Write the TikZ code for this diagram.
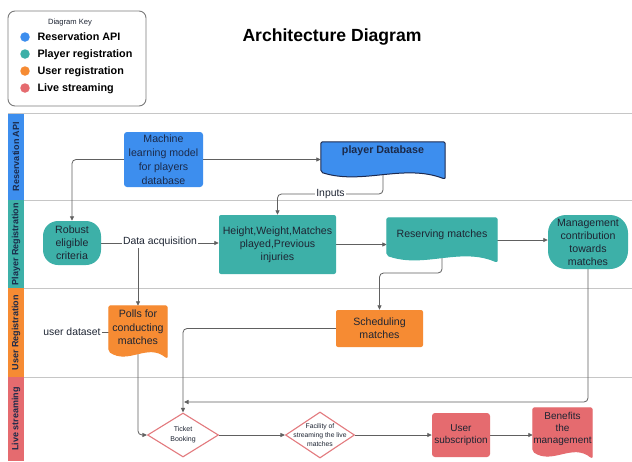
\documentclass[tikz,border=0pt]{standalone}
\usepackage{fontspec}
\setmainfont{Liberation Sans}
\usetikzlibrary{shapes.geometric,arrows.meta,calc}
\pgfdeclarelayer{lanes}\pgfdeclarelayer{edges}\pgfdeclarelayer{docs}
\pgfsetlayers{lanes,edges,docs,main}
\definecolor{blueC}{HTML}{3D8EEE}
\definecolor{tealC}{HTML}{3DB0A8}
\definecolor{orangeC}{HTML}{F68B33}
\definecolor{redC}{HTML}{E56B6F}
\definecolor{diaC}{HTML}{E37A7E}
\definecolor{navyT}{HTML}{1B2A4A}
\definecolor{navyB}{HTML}{1C2A50}
\definecolor{txtC}{HTML}{1E2533}
\definecolor{edgeC}{HTML}{606060}
\definecolor{laneC}{HTML}{C6C6C6}
\definecolor{keyC}{HTML}{7A7A7A}
\newcommand{\fs}[2]{\fontsize{#1}{#2}\selectfont}
\newcommand{\docshape}[3]{%
  \begin{pgfonlayer}{docs}
  \path[fill=#2,draw=#3,line width=1pt,rounded corners=2pt]
    let \p1=(#1.north west),\p2=(#1.south east),\n1={(\x2-\x1)/3} in
    (\x2,\y2) -- (\x2,\y1) -- (\x1,\y1) -- (\x1,\y2+7pt)
    .. controls (\x1+\n1,\y2-6.2pt) and (\x1+2*\n1,\y2+16pt) .. (\x2,\y2) -- cycle;
  \end{pgfonlayer}}
\tikzset{
  conn/.style={draw=edgeC,line width=0.8pt,rounded corners=4pt,-{Triangle[length=4.5pt,width=4pt]}},
  plain/.style={draw=edgeC,line width=0.8pt},
  laneline/.style={draw=laneC,line width=0.8pt},
  box/.style={rectangle,inner sep=0pt,align=center,text=txtC,font=\fs{10.6}{13}},
  docn/.style={rectangle,inner sep=0pt,draw=none,fill=none},
  dia/.style={diamond,inner sep=0pt,draw=diaC,fill=white,line width=1.1pt},
  elabel/.style={fill=white,inner sep=1pt,text=txtC,font=\fs{10.4}{12}},
  lanelbl/.style={rotate=90,font=\bfseries\fs{9}{10},text=navyT},
  keydot/.style={circle,inner sep=0pt,minimum size=9.5pt},
  keytxt/.style={anchor=base west,font=\bfseries\fs{10.8}{12},text=black},
}
\begin{document}
\begin{tikzpicture}[x=1pt,y=-1pt]
\useasboundingbox (0,0) rectangle (632,461);
\begin{pgfonlayer}{lanes}
  \fill[white] (0,0) rectangle (632,461);
  \fill[blueC] (8,113) rectangle (24,200);
  \fill[tealC] (8,200) rectangle (24,288);
  \fill[orangeC] (8,288) rectangle (24,377);
  \fill[redC] (8,377) rectangle (24,461);
  \draw[laneline] (8,113) -- (632,113);
  \draw[laneline] (24,200) -- (632,200);
  \draw[laneline] (24,288) -- (632,288);
  \draw[laneline] (24,377) -- (632,377);
\end{pgfonlayer}

% lane labels
\node[lanelbl] (lane1) at (16,156.5) {Reservation API};
\node[lanelbl] (lane2) at (16,244) {Player Registration};
\node[lanelbl] (lane3) at (16,332.5) {User Registration};
\node[lanelbl] (lane4) at (16,419) {Live streaming};

% key
\node[draw=keyC,rounded corners=7pt,line width=0.9pt,minimum width=138pt,minimum height=95pt,inner sep=0pt] (key) at (77,58.5) {};
\node[font=\fs{7.6}{9},text=txtC] (keyt) at (70,23) {Diagram Key};
\node[keydot,fill=blueC] (d1) at (25,37) {};
\node[keydot,fill=tealC] (d2) at (25,54) {};
\node[keydot,fill=orangeC] (d3) at (25,71) {};
\node[keydot,fill=redC] (d4) at (25,88) {};
\node[keytxt] (k1) at (34,40.9) {Reservation API};
\node[keytxt] (k2) at (34,57.9) {Player registration};
\node[keytxt] (k3) at (34,74.9) {User registration};
\node[keytxt] (k4) at (34,91.9) {Live streaming};

% title
\node[font=\bfseries\fs{17.6}{20},text=black] (title) at (332,37) {Architecture Diagram};

% nodes
\node[box,fill=blueC,rounded corners=3pt,minimum width=79pt,minimum height=55pt,font=\fs{10.6}{14},text=navyT] (ml) at (163.5,159.5) {Machine\\learning model\\for players\\database};
\node[docn,minimum width=124pt,minimum height=37pt,
  label={[font=\bfseries\fs{10.7}{13},text=navyT,yshift=9.5pt]center:player Database}] (pdb) at (383,160.5) {};
\docshape{pdb}{blueC}{navyB}

\node[box,fill=tealC,rounded corners=15pt,minimum width=58pt,minimum height=44pt] (rob) at (72,243) {Robust\\eligible\\criteria};
\node[box,fill=tealC,rounded corners=2pt,minimum width=117pt,minimum height=59pt] (height) at (277.5,244.5) {Height,Weight,Matches\\played,Previous\\injuries};
\node[docn,minimum width=110pt,minimum height=44pt,
  label={[font=\fs{10.6}{13},text=txtC,yshift=5pt]center:Reserving matches}] (res) at (442,240) {};
\docshape{res}{tealC}{tealC}
\node[box,fill=tealC,rounded corners=18pt,minimum width=80pt,minimum height=54pt] (mgmt) at (588,242) {Management\\contribution\\towards\\matches};

\node[docn,minimum width=58pt,minimum height=52pt,
  label={[font=\fs{10.6}{13.5},text=txtC,align=center,yshift=4.5pt]center:{Polls for\\conducting\\matches}}] (polls) at (138,332) {};
\docshape{polls}{orangeC}{orangeC}
\node[box,fill=orangeC,rounded corners=2pt,minimum width=87pt,minimum height=37pt] (sched) at (379.5,328.5) {Scheduling\\matches};

\node[dia,minimum width=71pt,minimum height=44pt,
  label={[font=\fs{7}{10},text=txtC,align=center]center:{Ticket\\Booking}}] (ticket) at (183,435) {};
\node[dia,minimum width=69pt,minimum height=46pt,
  label={[font=\fs{6.8}{8.7},text=txtC,align=center]center:{Facility of\\streaming the live\\matches}}] (fac) at (320,435) {};
\node[box,fill=redC,rounded corners=3pt,minimum width=58pt,minimum height=44pt,font=\fs{10}{12.5}] (usub) at (461,435) {User\\subscription};
\node[docn,minimum width=59pt,minimum height=50pt,
  label={[font=\fs{10}{12},text=txtC,align=center,yshift=4.5pt]center:{Benefits\\the\\management}}] (ben) at (562.5,433) {};
\docshape{ben}{redC}{redC}

% edge labels
\node[elabel] (inp) at (330.5,194) {Inputs};
\node[elabel] (dacq) at (160,242) {Data acquisition};
\node[elabel,fill=none] (udl) at (72,332) {user dataset};
\coordinate (sc) at (res.center |- 0,273);
\coordinate (mj) at (184,402);

\begin{pgfonlayer}{edges}
  \draw[conn] (ml.west) -| (rob.north);
  \draw[conn] (ml.east) -- (ml.east -| pdb.west);
  \draw[conn] (pdb.center) |- (inp.center) -| (height.north);
  \draw[conn] (rob.east) -- (rob.east -| height.west);
  \draw[conn] (rob.east -| polls.north) -- (polls.north);
  \draw[conn] (height.east) -- (height.east -| res.west);
  \draw[conn] (res.east) -- (res.east -| mgmt.west);
  \draw[conn] (res.center) -- (sc) -| (sched.north);
  \draw[conn] (sched.west) -| (ticket.north);
  \draw[conn] (mgmt.south) |- (mj);
  \draw[plain] (udl.east) -- (polls.west);
  \draw[conn] (polls.center) |- (ticket.west);
  \draw[conn] (ticket.east) -- (fac.west);
  \draw[conn] (fac.east) -- (usub.west);
  \draw[conn] (usub.east) -- (usub.east -| ben.west);
\end{pgfonlayer}
\end{tikzpicture}
\end{document}
